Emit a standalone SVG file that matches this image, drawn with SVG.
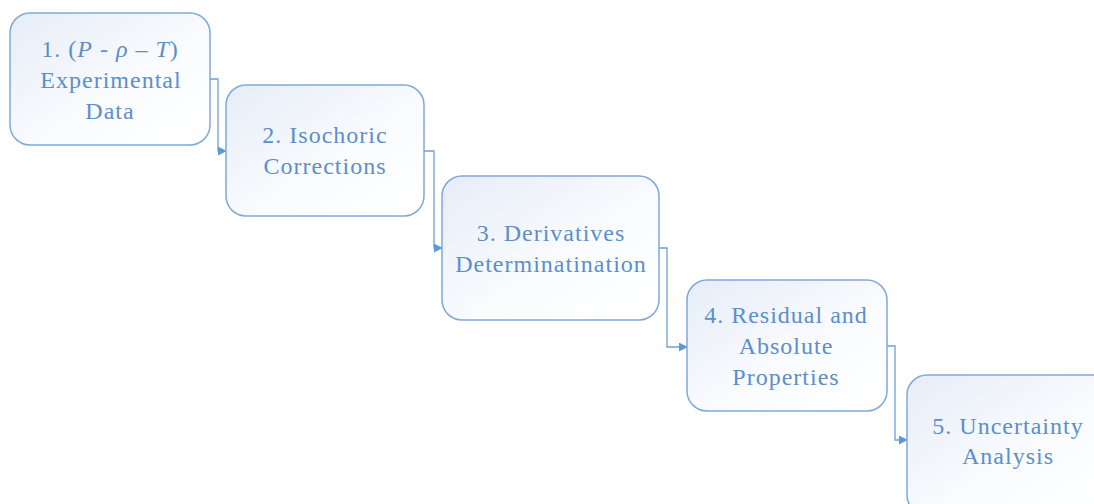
<svg xmlns="http://www.w3.org/2000/svg" width="1094" height="504" viewBox="0 0 1094 504">
  <defs>
    <linearGradient id="boxFill" x1="0" y1="0" x2="1" y2="1">
      <stop offset="0" stop-color="#e6edf8"/>
      <stop offset="0.6" stop-color="#fbfcfe"/>
      <stop offset="1" stop-color="#ffffff"/>
    </linearGradient>
    <marker id="arrow" viewBox="0 0 10 10" refX="9" refY="5" markerWidth="9" markerHeight="9" markerUnits="userSpaceOnUse" orient="auto">
      <path d="M0,0 L10,5 L0,10 Z" fill="#5b9bd5"/>
    </marker>
  </defs>
  <style>
    .box { fill: url(#boxFill); stroke: #7fa9da; stroke-width: 1.5; }
    .label { font-family: "Liberation Serif", "Times New Roman", serif; font-size: 24px; fill: #5b8fcb; text-anchor: middle; letter-spacing: 1px; }
    .conn { fill: none; stroke: #6d9fd8; stroke-width: 1.3; marker-end: url(#arrow); }
  </style>
  <rect width="1094" height="504" fill="#ffffff"/>
  <g id="connectors">
    <path class="conn" d="M210,79 H218 V151 H226"/>
    <path class="conn" d="M424,151 H434 V248 H442"/>
    <path class="conn" d="M659,248 H667 V347 H687"/>
    <path class="conn" d="M887,346 H895 V440 H907"/>
  </g>
  <g id="node1">
    <rect class="box" x="10" y="13" width="200" height="132" rx="20"/>
    <text class="label" x="110" y="57">1. (<tspan font-style="italic">P</tspan> - <tspan font-style="italic">ρ</tspan> – <tspan font-style="italic">T</tspan>)</text>
    <text class="label" x="111" y="88">Experimental</text>
    <text class="label" x="110" y="119">Data</text>
  </g>
  <g id="node2">
    <rect class="box" x="226" y="85" width="198" height="131" rx="20"/>
    <text class="label" x="325" y="143">2. Isochoric</text>
    <text class="label" x="325" y="174">Corrections</text>
  </g>
  <g id="node3">
    <rect class="box" x="442" y="176" width="217" height="144" rx="20"/>
    <text class="label" x="551" y="241">3. Derivatives</text>
    <text class="label" x="551" y="272">Determinatination</text>
  </g>
  <g id="node4">
    <rect class="box" x="687" y="280" width="200" height="131" rx="20"/>
    <text class="label" x="786" y="323">4. Residual and</text>
    <text class="label" x="786" y="354">Absolute</text>
    <text class="label" x="786" y="385">Properties</text>
  </g>
  <g id="node5">
    <rect class="box" x="907" y="375" width="205" height="140" rx="20"/>
    <text class="label" x="1008" y="434">5. Uncertainty</text>
    <text class="label" x="1008" y="464">Analysis</text>
  </g>
</svg>
